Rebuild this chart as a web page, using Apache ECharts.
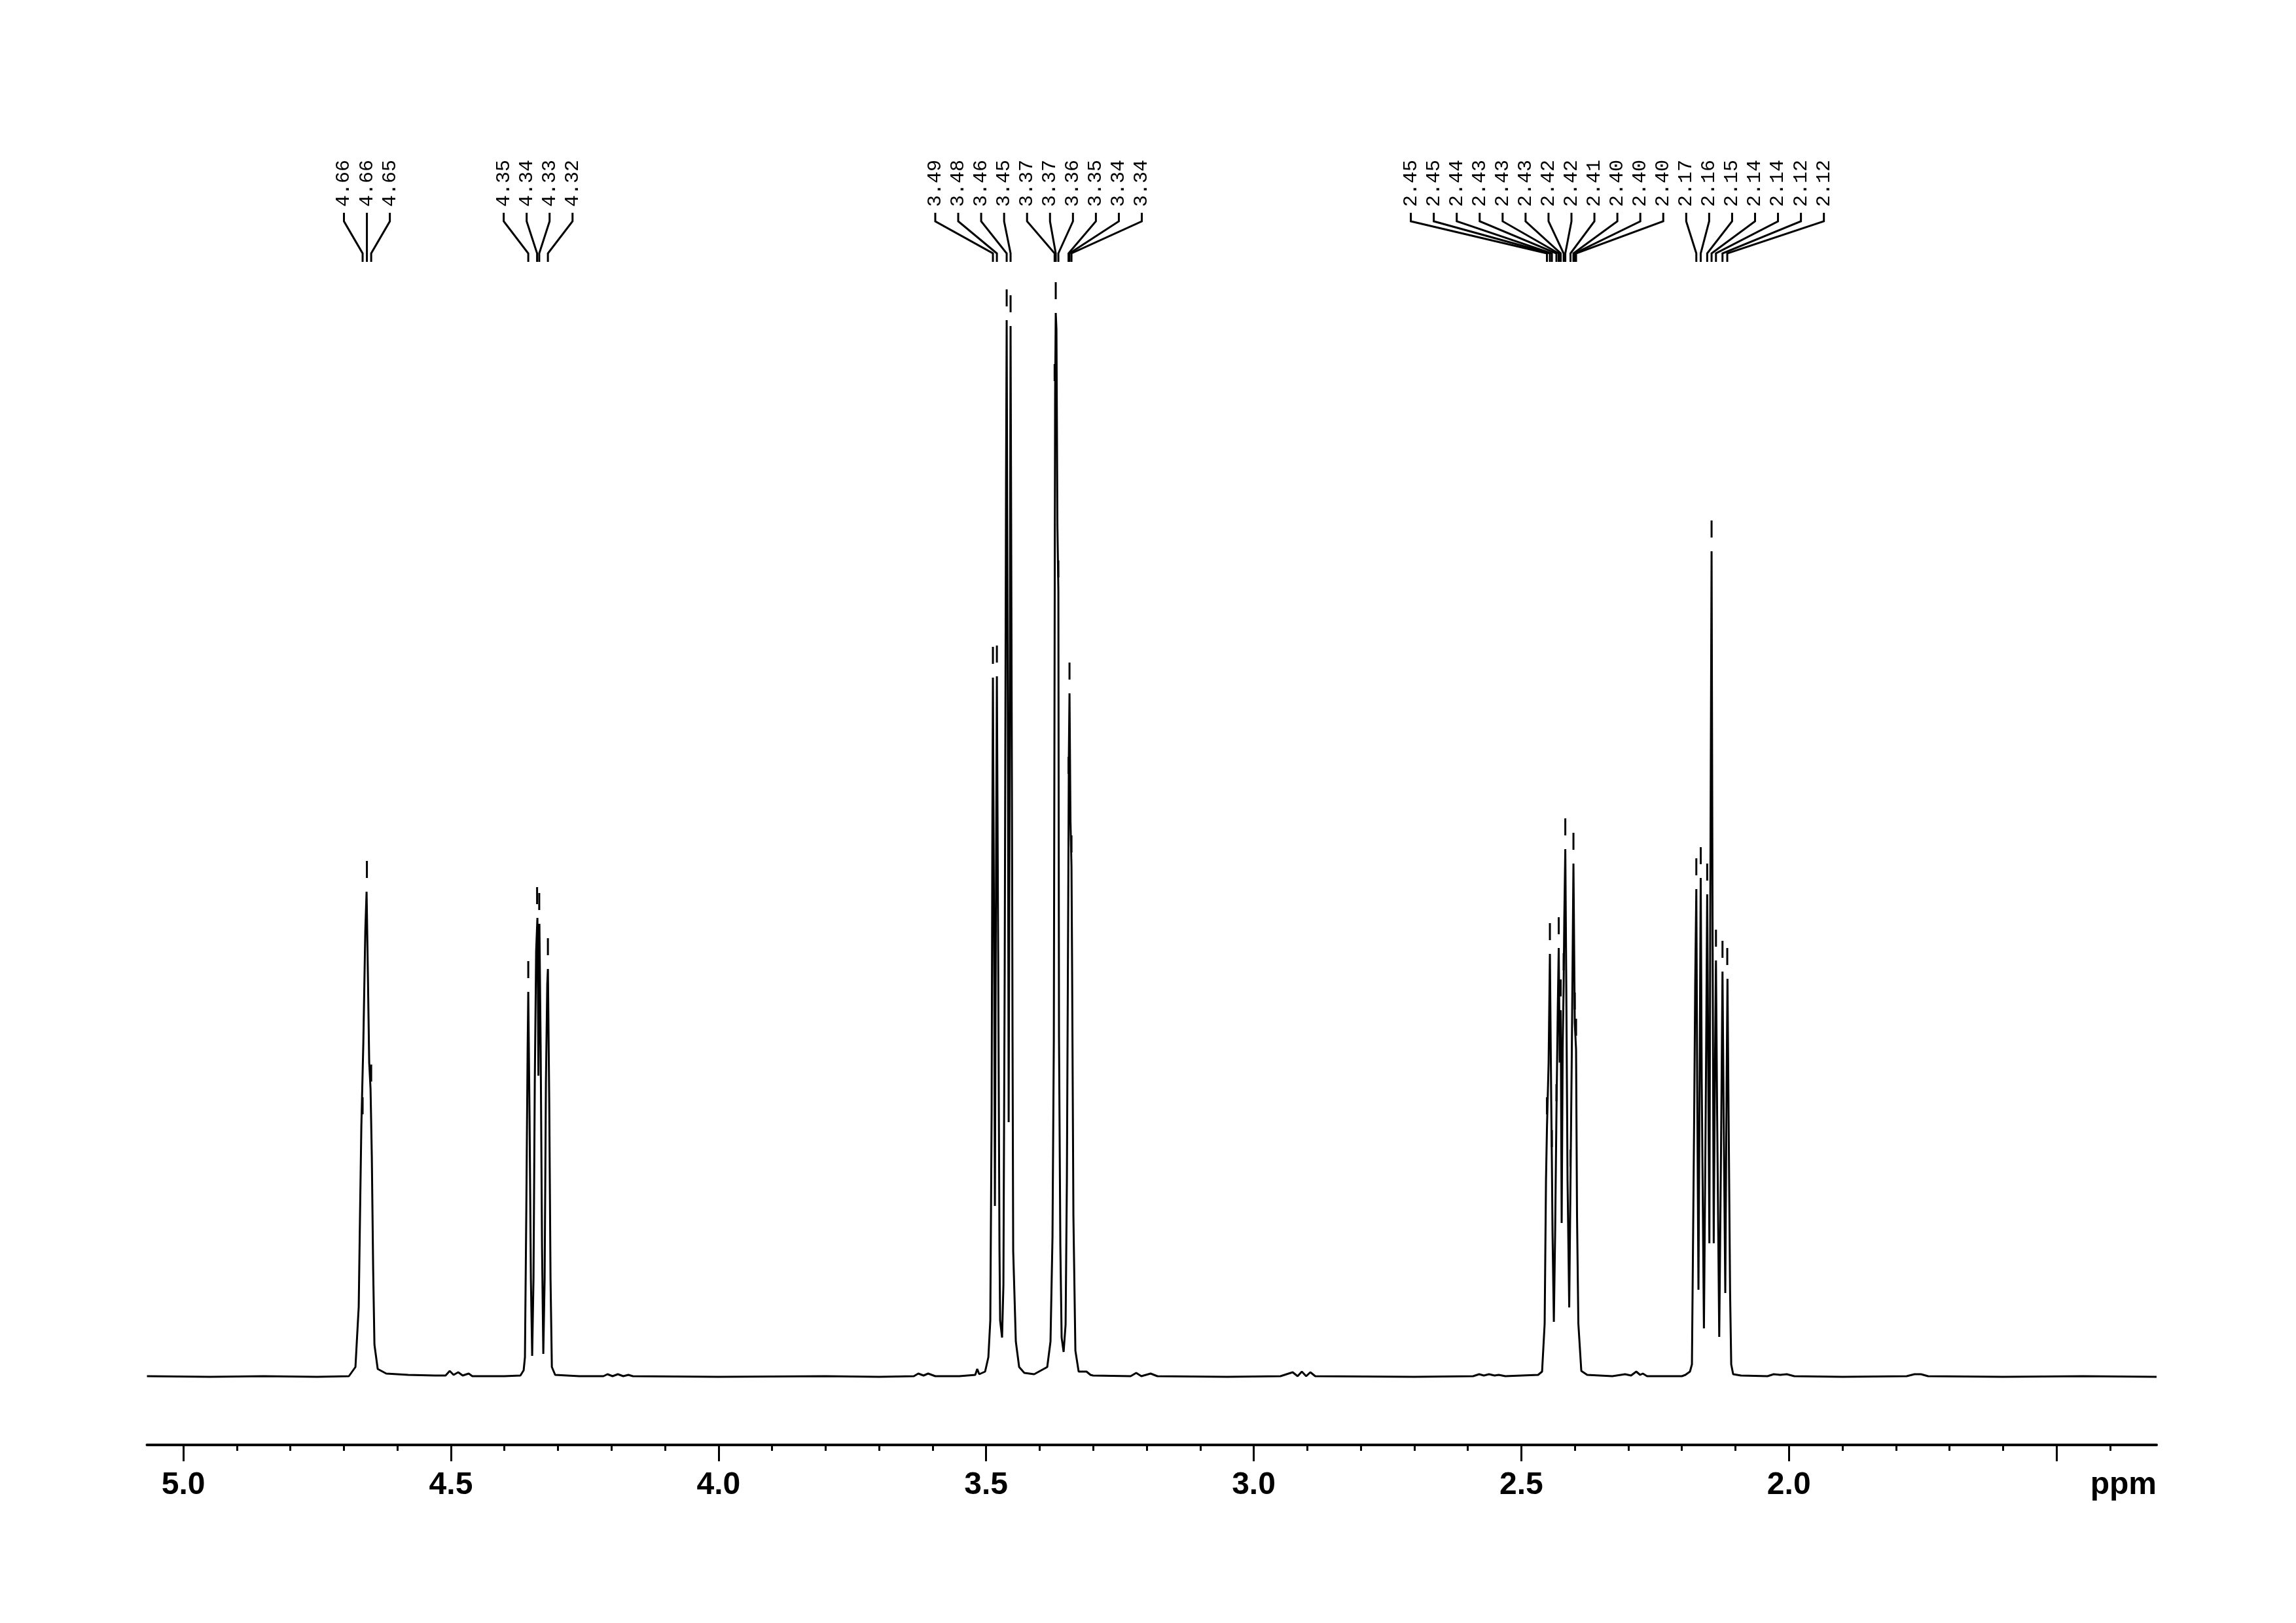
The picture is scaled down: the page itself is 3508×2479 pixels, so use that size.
<!DOCTYPE html>
<html><head><meta charset="utf-8">
<script src="https://cdn.jsdelivr.net/npm/echarts@6/dist/echarts.min.js"></script>
<style>html,body{margin:0;padding:0;background:#fff;}#c{width:3508px;height:2479px;}</style>
</head><body><div id="c"></div>
<script>
// ---------- axis ticks ----------
const majorTicks = [5.0, 4.5, 4.0, 3.5, 3.0, 2.5, 2.0, 1.5];
const minorTicks = [4.9,4.8,4.7,4.6,4.4,4.3,4.2,4.1,3.9,3.8,3.7,3.6,3.4,3.3,3.2,3.1,2.9,2.8,2.7,2.6,2.4,2.3,2.2,2.1,1.9,1.8,1.7,1.6,1.4];
const tickLabelValues = [5.0, 4.5, 4.0, 3.5, 3.0, 2.5, 2.0];
const tickLabelTexts = ['5.0', '4.5', '4.0', '3.5', '3.0', '2.5', '2.0'];
const axisUnit = 'ppm';
const axisRange = [1.313, 5.068];

// ---------- peak picking ----------
const peakLabels = ['4.66','4.66','4.65','4.35','4.34','4.33','4.32',
  '3.49','3.48','3.46','3.45','3.37','3.37','3.36','3.35','3.34','3.34',
  '2.45','2.45','2.44','2.43','2.43','2.43','2.42','2.42','2.41','2.40','2.40','2.40',
  '2.17','2.16','2.15','2.14','2.14','2.12','2.12'];
const peakShifts = [4.665,4.657,4.649, 4.3555,4.339,4.335,4.3188,
  3.4873,3.4799,3.4616,3.4543,3.3720,3.3699,3.3650,3.3460,3.3442,3.3405,
  2.4521,2.4466,2.4429,2.4344,2.4301,2.4264,2.4209,2.4178,2.4081,2.4026,2.4001,2.3977,
  2.1730,2.1648,2.1527,2.1445,2.1363,2.1241,2.1152];
const peakHeights = [380,741,430, 588,701,692,623,
  1068,1070,1614,1605,1500,1625,1200,900,1044,780,
  380,646,330,400,655,560,600,806,300,784,540,500,
  745,762,737,1261,636,619,608];

// ---------- spectrum trace [ppm, intensity] ----------
const baselineA = [[5.068,1],[4.95,0],[4.85,1],[4.75,0]];
const m466 = [[4.6906,1],[4.6784,15],[4.6723,107],[4.6698,250],[4.6674,382],[4.6637,509],[4.6600,681],[4.6576,741],[4.6551,612],[4.6527,480],[4.6502,440],[4.6478,336],[4.6453,164],[4.6429,49],[4.6368,12],[4.6209,5]];
const baselineB = [[4.58,3],[4.53,2],[4.51,2],[4.5023,9],[4.495,3],[4.4864,7],[4.478,2],[4.4668,5],[4.46,1],[4.40,1]];
const m435 = [[4.3702,2],[4.3641,10],[4.3617,30],[4.3592,250],[4.3567,500],[4.3555,588],[4.3531,400],[4.3506,150],[4.3482,32],[4.3457,150],[4.3433,450],[4.3408,650],[4.3384,701],[4.3365,460],[4.3347,692],[4.3323,500],[4.3298,200],[4.3274,35],[4.3249,150],[4.3225,450],[4.3200,600],[4.3188,623],[4.3163,420],[4.3139,150],[4.3114,15],[4.3053,3]];
const baselineC = [[4.26,1],[4.215,1],[4.2075,4],[4.198,1],[4.188,4],[4.178,1],[4.1684,3],[4.16,1],[4.00,0],[3.80,1],[3.70,0],[3.635,1],[3.6267,5],[3.6169,2],[3.6083,5],[3.595,1],[3.55,1]];
const m349 = [[3.5203,3],[3.5166,12],[3.5129,4],[3.5019,8],[3.4958,30],[3.4922,86],[3.4897,405],[3.4885,800],[3.4873,1068],[3.4848,600],[3.4836,261],[3.4818,700],[3.4799,1070],[3.4775,650],[3.4750,192],[3.4738,86],[3.4702,60],[3.4677,140],[3.4653,618],[3.4628,1364],[3.4616,1614],[3.4591,900],[3.4579,389],[3.4561,900],[3.4543,1605],[3.4518,900],[3.4506,512],[3.4494,192],[3.4445,54],[3.4383,15],[3.4286,6],[3.4102,4]];
const m336 = [[3.3858,15],[3.3797,54],[3.3760,213],[3.3735,512],[3.3723,1000],[3.3711,1500],[3.3699,1625],[3.3686,1600],[3.3668,1300],[3.3650,1200],[3.3638,518],[3.3613,200],[3.3589,60],[3.3552,38],[3.3515,80],[3.3491,299],[3.3466,725],[3.3454,950],[3.3442,1044],[3.3424,850],[3.3405,780],[3.3393,618],[3.3369,245],[3.3332,40],[3.3271,8],[3.3124,8],[3.3050,3],[3.3002,2]];
const baselineD = [[3.23,1],[3.2195,6],[3.21,1],[3.1926,5],[3.18,1],[3.05,0],[2.95,1],[2.9272,7],[2.918,1],[2.9101,8],[2.902,1],[2.8942,7],[2.885,1],[2.70,0],[2.59,1],[2.5787,4],[2.57,2],[2.5603,4],[2.55,2],[2.542,3],[2.53,1]];
const m243 = [[2.4686,3],[2.4612,8],[2.4564,81],[2.4539,300],[2.4521,380],[2.4490,480],[2.4466,646],[2.4441,420],[2.4429,330],[2.4417,220],[2.4392,84],[2.4368,220],[2.4344,400],[2.4319,560],[2.4301,655],[2.4282,480],[2.4264,560],[2.4246,235],[2.4227,500],[2.4209,600],[2.4197,700],[2.4178,806],[2.4160,600],[2.4136,300],[2.4105,106],[2.4081,300],[2.4056,500],[2.4026,784],[2.4001,540],[2.3977,500],[2.3959,246],[2.3934,81],[2.3879,9],[2.3769,3]];
const baselineE = [[2.33,1],[2.306,4],[2.295,2],[2.2852,8],[2.278,3],[2.273,5],[2.265,1],[2.20,1]];
const m214 = [[2.1934,3],[2.1849,8],[2.1812,19],[2.1772,380],[2.1751,600],[2.1730,745],[2.1714,450],[2.1690,133],[2.1665,500],[2.1648,762],[2.1629,450],[2.1588,74],[2.1555,400],[2.1527,737],[2.1506,450],[2.1486,204],[2.1470,700],[2.1445,1261],[2.1427,700],[2.1405,204],[2.1384,450],[2.1363,636],[2.1341,400],[2.1302,61],[2.1268,350],[2.1241,619],[2.1219,400],[2.1189,128],[2.1164,450],[2.1148,608],[2.1127,400],[2.1099,128],[2.1078,19],[2.1042,4],[2.0895,2]];
const baselineF = [[2.04,1],[2.0284,4],[2.0162,3],[2.004,4],[1.99,1],[1.90,0],[1.78,1],[1.7654,4],[1.7532,4],[1.74,1],[1.60,0],[1.45,1],[1.313,0]];

const spectrum = [].concat(baselineA, m466, baselineB, m435, baselineC, m349, m336, baselineD, m243, baselineE, m214, baselineF);

// ---------- layout constants ----------
const GRID = {left: 224.5, right: 213, top: 300, bottom: 272};
const LABEL_PITCH = 35.06;
const TEXT_Y = 316;
const CONN = [325, 338, 387, 400];
const AXIS_Y = 2479 - GRID.bottom;
const LABEL_MARGIN = 38;
const tickFont = 'bold 48px "Liberation Sans", Arial, sans-serif';

function layoutLabels(api) {
  const xs = peakShifts.map(p => api.coord([p, 0])[0]);
  const order = xs.map((x, i) => i).sort((a, b) => xs[a] - xs[b]);
  let clusters = order.map(i => ({m: [i], c: xs[i]}));
  let changed = true;
  while (changed) {
    changed = false;
    for (let k = 0; k < clusters.length - 1; k++) {
      const a = clusters[k], b = clusters[k + 1];
      const aR = a.c + (a.m.length - 1) / 2 * LABEL_PITCH;
      const bL = b.c - (b.m.length - 1) / 2 * LABEL_PITCH;
      if (bL - aR < LABEL_PITCH - 0.01) {
        const m = a.m.concat(b.m);
        const c = m.reduce((s, i) => s + xs[i], 0) / m.length;
        clusters.splice(k, 2, {m, c});
        changed = true;
        break;
      }
    }
  }
  const lx = new Array(xs.length);
  clusters.forEach(cl => cl.m.forEach((i, j) => { lx[i] = cl.c + (j - (cl.m.length - 1) / 2) * LABEL_PITCH; }));
  return {xs, lx};
}

const chart = echarts.init(document.getElementById('c'), null, {renderer: 'canvas'});
chart.setOption({
  animation: false,
  backgroundColor: '#ffffff',
  grid: GRID,
  xAxis: [{
    type: 'value', inverse: true, min: axisRange[0], max: axisRange[1], position: 'bottom',
    axisLine: {show: true, onZero: false, lineStyle: {color: '#000', width: 4}},
    axisTick: {show: true, customValues: majorTicks, length: 25, lineStyle: {color: '#000', width: 3}},
    axisLabel: {show: true, customValues: tickLabelValues, margin: LABEL_MARGIN, color: '#000',
      fontFamily: '"Liberation Sans", Arial, sans-serif', fontWeight: 'bold', fontSize: 48,
      formatter: v => { const k = tickLabelValues.findIndex(t => Math.abs(t - v) < 1e-6); return k >= 0 ? tickLabelTexts[k] : ''; }},
    splitLine: {show: false}
  }, {
    type: 'value', inverse: true, min: axisRange[0], max: axisRange[1], position: 'bottom', offset: 0,
    axisLine: {show: false, onZero: false},
    axisTick: {show: true, customValues: minorTicks, length: 9, lineStyle: {color: '#000', width: 3}},
    axisLabel: {show: false},
    splitLine: {show: false}
  }],
  yAxis: {type: 'value', min: -104, max: 1803, show: false, splitLine: {show: false}},
  graphic: [{
    type: 'text', x: 3508 - GRID.right, y: AXIS_Y + LABEL_MARGIN,
    style: {text: axisUnit, font: tickFont, fill: '#000', align: 'right', verticalAlign: 'top'}
  }],
  series: [{
    type: 'line', xAxisIndex: 0, yAxisIndex: 0, data: spectrum,
    showSymbol: false, symbol: 'none', sampling: null, smooth: false,
    lineStyle: {color: '#000', width: 3}, clip: false, z: 2
  }, {
    type: 'custom', coordinateSystem: 'cartesian2d', xAxisIndex: 0, yAxisIndex: 0, clip: false, z: 3,
    data: peakShifts.map((p, i) => [p, peakHeights[i], i]),
    renderItem: function (params, api) {
      const L = layoutLabels(api);
      const i = api.value(2);
      const px = L.xs[i], lx = L.lx[i];
      const py = api.coord([api.value(0), api.value(1)])[1];
      return {type: 'group', children: [
        {type: 'text', x: lx, y: TEXT_Y, rotation: Math.PI / 2,
          style: {text: peakLabels[i], font: '30px "Liberation Mono", "DejaVu Sans Mono", monospace', fill: '#000', align: 'left', verticalAlign: 'middle'}},
        {type: 'polyline', shape: {points: [[lx, CONN[0]], [lx, CONN[1]], [px, CONN[2]], [px, CONN[3]]]},
          style: {stroke: '#000', lineWidth: 3, fill: null}},
        {type: 'line', shape: {x1: px, y1: py - 47, x2: px, y2: py - 21}, style: {stroke: '#000', lineWidth: 3}}
      ]};
    }
  }]
});
</script>
</body></html>
